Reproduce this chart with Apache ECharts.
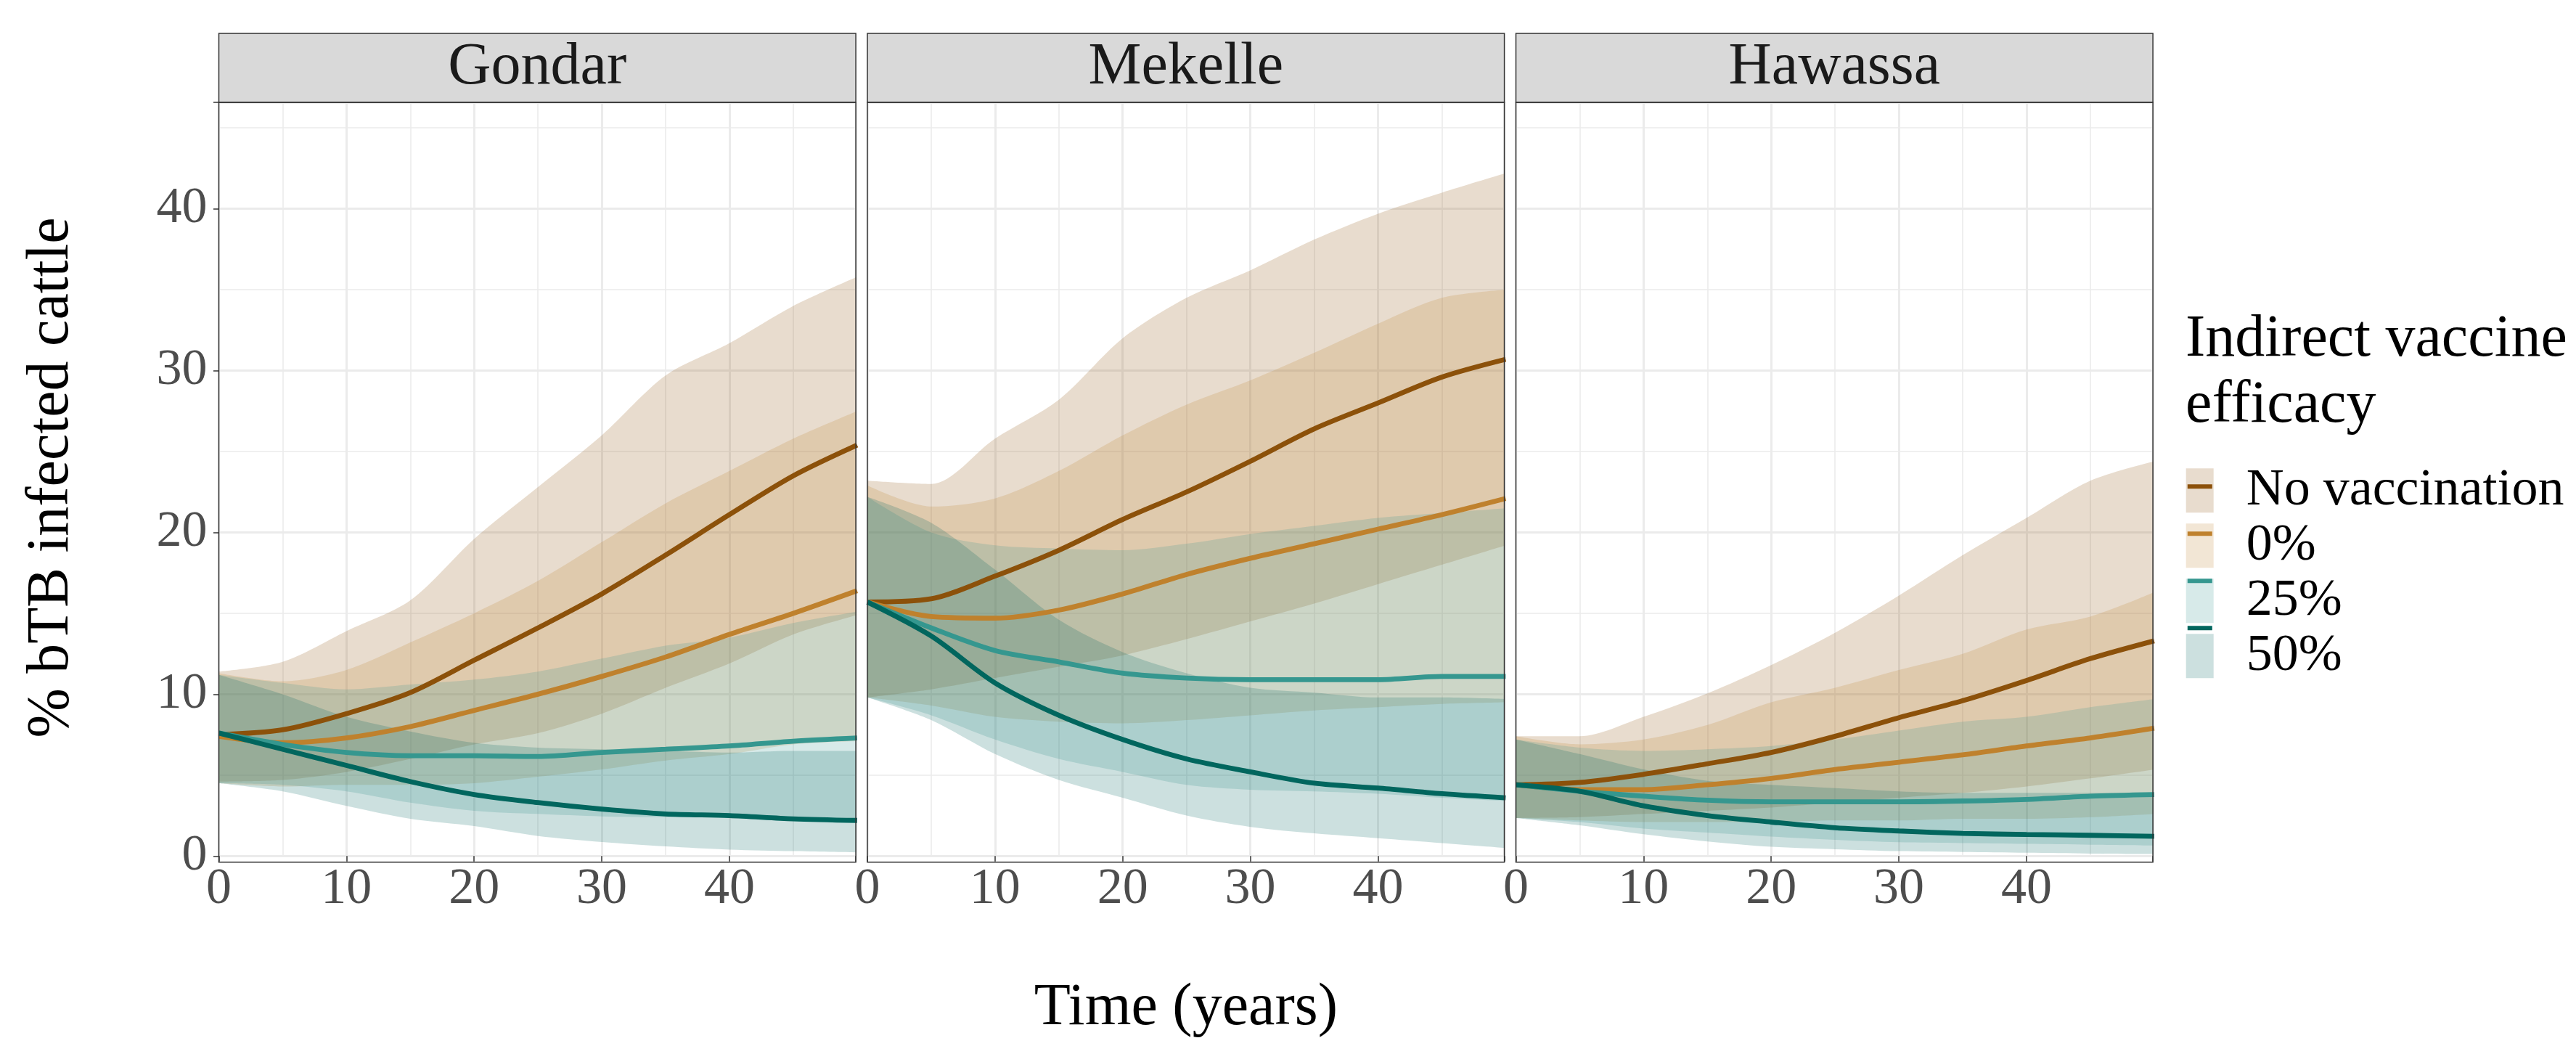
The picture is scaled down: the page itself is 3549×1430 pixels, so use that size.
<!DOCTYPE html>
<html>
<head>
<meta charset="utf-8">
<script src="https://cdn.jsdelivr.net/npm/echarts@6/dist/echarts.min.js"></script>
<style>html,body{margin:0;padding:0;background:#fff}#chart{width:3549px;height:1430px}</style>
</head>
<body>
<div id="chart"></div>
<script>
// ---------- data ----------
const years = [0, 5, 10, 15, 20, 25, 30, 35, 40, 45, 50];
const panelNames = ['Gondar', 'Mekelle', 'Hawassa'];
const groupNames = ['No vaccination', '0%', '25%', '50%'];
const xTicks = [0, 10, 20, 30, 40];
const yTicks = [0, 10, 20, 30, 40];

// Gondar
const gondarNoVacMean = [7.5, 7.8, 8.8, 10.1, 12.1, 14.1, 16.2, 18.6, 21.1, 23.5, 25.4];
const gondarNoVacLow  = [4.6, 4.7, 5.2, 6.0, 6.9, 7.6, 8.8, 10.4, 11.9, 13.7, 14.9];
const gondarNoVacHigh = [11.4, 12.0, 13.9, 15.8, 19.6, 22.8, 26.0, 29.7, 31.7, 34.0, 35.8];
const gondarV0Mean  = [7.4, 7.0, 7.3, 8.0, 9.0, 10.0, 11.1, 12.3, 13.7, 15.0, 16.4];
const gondarV0Low   = [4.5, 4.3, 4.4, 4.4, 4.5, 4.9, 5.35, 5.9, 6.3, 6.9, 7.1];
const gondarV0High  = [11.3, 10.8, 11.5, 13.2, 15.0, 17.0, 19.4, 21.8, 23.8, 25.8, 27.5];
const gondarV25Mean = [7.6, 6.9, 6.4, 6.2, 6.2, 6.15, 6.4, 6.6, 6.8, 7.1, 7.3];
const gondarV25Low  = [4.5, 4.4, 4.0, 3.3, 2.8, 2.6, 2.45, 2.4, 2.4, 2.35, 2.3];
const gondarV25High = [11.2, 10.7, 10.3, 10.6, 10.9, 11.4, 12.2, 13.0, 13.5, 14.4, 15.1];
const gondarV50Mean = [7.6, 6.6, 5.6, 4.6, 3.8, 3.3, 2.9, 2.6, 2.5, 2.3, 2.2];
const gondarV50Low  = [4.5, 4.0, 3.1, 2.3, 1.85, 1.24, 0.87, 0.6, 0.4, 0.3, 0.22];
const gondarV50High = [11.2, 10.0, 8.6, 7.7, 7.0, 6.7, 6.6, 6.5, 6.4, 6.5, 6.5];

// Mekelle
const mekelleNoVacMean = [15.7, 15.9, 17.3, 18.9, 20.8, 22.5, 24.4, 26.4, 28.0, 29.6, 30.7];
const mekelleNoVacLow  = [9.8, 10.3, 11.0, 11.7, 12.4, 13.4, 14.5, 15.6, 16.8, 18.0, 19.2];
const mekelleNoVacHigh = [23.2, 23.0, 25.8, 28.2, 32.0, 34.5, 36.2, 38.1, 39.7, 41.0, 42.2];
const mekelleV0Mean  = [15.7, 14.8, 14.7, 15.2, 16.2, 17.4, 18.4, 19.3, 20.2, 21.1, 22.1];
const mekelleV0Low   = [9.8, 9.3, 8.6, 8.3, 8.2, 8.4, 8.7, 9.0, 9.2, 9.4, 9.5];
const mekelleV0High  = [22.9, 21.6, 22.1, 23.8, 26.0, 27.9, 29.4, 31.1, 32.9, 34.5, 35.0];
const mekelleV25Mean = [15.7, 14.1, 12.7, 12.0, 11.3, 11.0, 10.9, 10.9, 10.9, 11.1, 11.1];
const mekelleV25Low  = [9.8, 8.7, 7.2, 6.0, 5.2, 4.4, 4.1, 4.0, 3.85, 3.6, 3.4];
const mekelleV25High = [22.2, 20.0, 19.2, 19.0, 18.9, 19.3, 19.9, 20.4, 20.9, 21.2, 21.5];
const mekelleV50Mean = [15.7, 13.6, 10.7, 8.7, 7.2, 6.0, 5.2, 4.5, 4.2, 3.85, 3.6];
const mekelleV50Low  = [9.8, 8.4, 6.3, 4.7, 3.6, 2.5, 1.8, 1.4, 1.1, 0.8, 0.5];
const mekelleV50High = [22.2, 20.6, 17.7, 14.6, 12.6, 11.3, 10.4, 10.1, 9.8, 9.8, 9.7];

// Hawassa
const hawassaNoVacMean = [4.4, 4.55, 5.05, 5.7, 6.4, 7.4, 8.55, 9.6, 10.85, 12.2, 13.3];
const hawassaNoVacLow  = [2.35, 2.4, 2.6, 2.8, 3.0, 3.3, 3.6, 3.9, 4.3, 4.8, 5.35];
const hawassaNoVacHigh = [7.4, 7.4, 8.6, 10.05, 11.8, 13.8, 16.1, 18.6, 20.9, 23.2, 24.4];
const hawassaV0Mean  = [4.4, 4.1, 4.1, 4.4, 4.8, 5.35, 5.8, 6.25, 6.8, 7.3, 7.9];
const hawassaV0Low   = [2.35, 2.2, 2.1, 2.1, 2.1, 2.2, 2.2, 2.3, 2.3, 2.4, 2.6];
const hawassaV0High  = [7.4, 6.9, 7.2, 8.1, 9.5, 10.4, 11.5, 12.5, 14.0, 14.8, 16.3];
const hawassaV25Mean = [4.4, 4.0, 3.7, 3.45, 3.35, 3.35, 3.35, 3.4, 3.5, 3.7, 3.8];
const hawassaV25Low  = [2.35, 2.1, 1.7, 1.45, 1.2, 1.0, 0.85, 0.8, 0.75, 0.7, 0.65];
const hawassaV25High = [7.2, 6.7, 6.5, 6.6, 6.8, 7.2, 7.75, 8.3, 8.6, 9.2, 9.7];
const hawassaV50Mean = [4.4, 4.0, 3.1, 2.5, 2.1, 1.75, 1.55, 1.4, 1.33, 1.28, 1.22];
const hawassaV50Low  = [2.35, 1.9, 1.35, 0.9, 0.57, 0.42, 0.3, 0.25, 0.2, 0.15, 0.12];
const hawassaV50High = [7.2, 6.3, 5.35, 4.65, 4.4, 4.2, 4.0, 3.9, 3.9, 3.9, 3.9];

// ---------- styling ----------
const FONT = '"Liberation Serif", "Times New Roman", serif';
const lineColors = ['#8C510A', '#BF812D', '#35978F', '#01665E'];
const bandColors = ['rgba(140,81,10,0.2)', 'rgba(191,129,45,0.2)', 'rgba(53,151,143,0.2)', 'rgba(1,102,94,0.2)'];

const panelData = [
  [[gondarNoVacMean, gondarNoVacLow, gondarNoVacHigh], [gondarV0Mean, gondarV0Low, gondarV0High],
   [gondarV25Mean, gondarV25Low, gondarV25High], [gondarV50Mean, gondarV50Low, gondarV50High]],
  [[mekelleNoVacMean, mekelleNoVacLow, mekelleNoVacHigh], [mekelleV0Mean, mekelleV0Low, mekelleV0High],
   [mekelleV25Mean, mekelleV25Low, mekelleV25High], [mekelleV50Mean, mekelleV50Low, mekelleV50High]],
  [[hawassaNoVacMean, hawassaNoVacLow, hawassaNoVacHigh], [hawassaV0Mean, hawassaV0Low, hawassaV0High],
   [hawassaV25Mean, hawassaV25Low, hawassaV25High], [hawassaV50Mean, hawassaV50Low, hawassaV50High]]
];

const panelLefts = [301.5, 1195.0, 2088.5];
const panelW = 877.6;
const gridTop = 141;
const zeroY = 1179.3;
const panelBottom = 1187.7;
const stripTop = 46;
const xMax = 49.9;
const yMax = (zeroY - gridTop) / 22.29;
const SMOOTH = 0.3;

const grids = [], xAxes = [], yAxes = [], series = [], graphics = [];

panelLefts.forEach((left, p) => {
  grids.push({ left: left, top: gridTop, width: panelW, height: zeroY - gridTop, containLabel: false, outerBoundsMode: 'none' });
  // minor x
  xAxes.push({ type: 'value', gridIndex: p, position: 'bottom', min: 0, max: xMax, interval: 5,
    axisLine: { show: false }, axisTick: { show: false }, axisLabel: { show: false },
    splitLine: { show: true, lineStyle: { color: '#EBEBEB', width: 1.6 } } });
  // major x
  xAxes.push({ type: 'value', gridIndex: p, position: 'bottom', min: 0, max: xMax, interval: 10, offset: panelBottom - zeroY,
    axisLine: { show: false },
    axisTick: { show: true, length: 7.5, lineStyle: { color: '#333333', width: 1.5 } },
    axisLabel: { show: true, fontSize: 70, fontFamily: FONT, color: '#4D4D4D', margin: 3,
      formatter: v => xTicks.includes(v) ? String(v) : '' },
    splitLine: { show: true, lineStyle: { color: '#EBEBEB', width: 3 } } });
  // minor y
  yAxes.push({ type: 'value', gridIndex: p, position: 'left', min: 0, max: yMax, interval: 5,
    axisLine: { show: false }, axisTick: { show: false }, axisLabel: { show: false },
    splitLine: { show: true, lineStyle: { color: '#EBEBEB', width: 1.6 } } });
  // major y
  yAxes.push({ type: 'value', gridIndex: p, position: 'left', min: 0, max: yMax, interval: 10,
    axisLine: { show: false },
    axisTick: { show: p === 0, length: 7.5, lineStyle: { color: '#333333', width: 1.5 } },
    axisLabel: { show: p === 0, fontSize: 70, fontFamily: FONT, color: '#4D4D4D', margin: 16,
      formatter: v => yTicks.includes(v) ? String(v) : '' },
    splitLine: { show: true, lineStyle: { color: '#EBEBEB', width: 3 } } });

  const xi = 2 * p + 1, yi = 2 * p + 1;
  // bands first: data rows are [value, time] so the stacked dimension is the y value
  panelData[p].forEach((g, gi) => {
    const [mean, low, high] = g;
    const stackId = 'band-' + p + '-' + gi;
    series.push({
      type: 'line', name: groupNames[gi] + ' lower', xAxisIndex: xi, yAxisIndex: yi, stack: stackId,
      encode: { x: 1, y: 0 },
      data: years.map((t, i) => [low[i], t]), symbol: 'none', smooth: SMOOTH, silent: true,
      lineStyle: { opacity: 0, width: 0 }, z: 2
    });
    series.push({
      type: 'line', name: groupNames[gi] + ' band', xAxisIndex: xi, yAxisIndex: yi, stack: stackId,
      encode: { x: 1, y: 0 },
      data: years.map((t, i) => [+(high[i] - low[i]).toFixed(3), t]), symbol: 'none', smooth: SMOOTH, silent: true,
      lineStyle: { opacity: 0, width: 0 }, areaStyle: { color: bandColors[gi], opacity: 1 }, z: 2
    });
  });
  // then mean lines
  panelData[p].forEach((g, gi) => {
    const mean = g[0];
    series.push({
      type: 'line', name: groupNames[gi], xAxisIndex: xi, yAxisIndex: yi,
      data: years.map((t, i) => [t, mean[i]]), symbol: 'none', smooth: SMOOTH, silent: true,
      lineStyle: { color: lineColors[gi], width: 6.8 }, itemStyle: { color: lineColors[gi] }, z: 3
    });
  });

  // strip + panel border
  graphics.push({ type: 'rect', z: 50, shape: { x: left, y: stripTop, width: panelW, height: gridTop - stripTop },
    style: { fill: '#D9D9D9', stroke: '#333333', lineWidth: 1.5 } });
  graphics.push({ type: 'text', z: 51, x: left + panelW / 2, y: (stripTop + gridTop) / 2,
    style: { text: panelNames[p], fontSize: 82, fontFamily: FONT, fill: '#1A1A1A', align: 'center', verticalAlign: 'middle' } });
  graphics.push({ type: 'rect', z: 50, shape: { x: left, y: gridTop, width: panelW, height: panelBottom - gridTop },
    style: { fill: 'none', stroke: '#333333', lineWidth: 1.5 } });
});

// axis titles and legend title
graphics.push({ type: 'text', z: 51, x: (panelLefts[0] + panelLefts[2] + panelW) / 2, y: 1389,
  style: { text: 'Time (years)', fontSize: 82, fontFamily: FONT, fill: '#000', align: 'center', verticalAlign: 'middle' } });
graphics.push({ type: 'text', z: 51, x: 71.5, y: 658, rotation: Math.PI / 2,
  style: { text: '% bTB infected cattle', fontSize: 82, fontFamily: FONT, fill: '#000', align: 'center', verticalAlign: 'middle' } });
graphics.push({ type: 'text', z: 51, x: 3011, y: 422.8,
  style: { text: 'Indirect vaccine\nefficacy', fontSize: 82, lineHeight: 91, fontFamily: FONT, fill: '#000', align: 'left', verticalAlign: 'top' } });

const option = {
  animation: false,
  backgroundColor: '#FFFFFF',
  grid: grids,
  xAxis: xAxes,
  yAxis: yAxes,
  series: series,
  graphic: { elements: graphics },
  legend: [
    {
      orient: 'vertical', left: 3011.7, top: 639.7, padding: 0, itemGap: 4, itemWidth: 38, itemHeight: 61,
      selectedMode: false, icon: 'rect',
      itemStyle: { borderWidth: 0 },
      data: groupNames.map((n, i) => ({ name: n, icon: 'rect', itemStyle: { color: bandColors[i], borderWidth: 0 } })),
      textStyle: { fontSize: 72, fontFamily: FONT, color: '#000', lineHeight: 61, padding: [0, 0, 0, 40] }
    },
    {
      orient: 'vertical', left: 3013.8, top: 667.2, padding: 0, itemGap: 59, itemWidth: 34, itemHeight: 6,
      selectedMode: false, icon: 'rect', z: 6,
      itemStyle: { borderWidth: 0 },
      data: groupNames.map((n, i) => ({ name: n, icon: 'rect', itemStyle: { color: lineColors[i], borderWidth: 0 } })),
      formatter: () => '',
      textStyle: { fontSize: 1, lineHeight: 1 }
    }
  ]
};

const chart = echarts.init(document.getElementById('chart'), null, { renderer: 'canvas', width: 3549, height: 1430 });
chart.setOption(option);
</script>
</body>
</html>
